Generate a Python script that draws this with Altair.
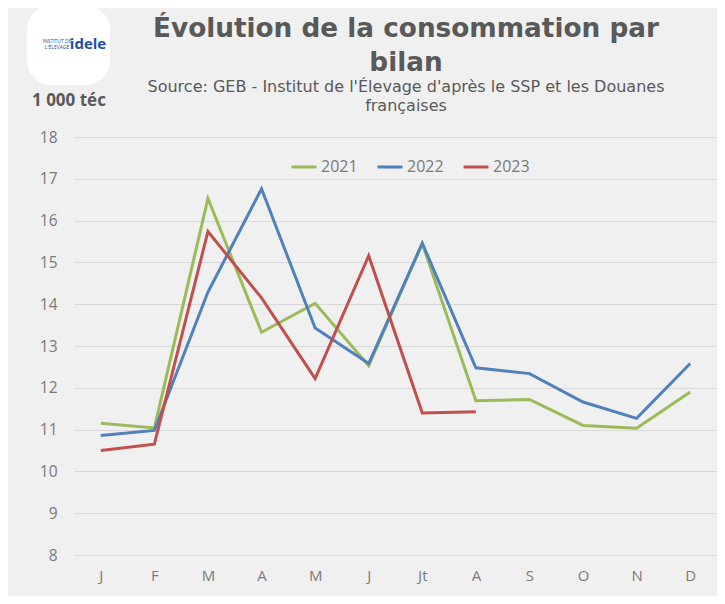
import altair as alt
import pandas as pd

month_labels = ["J", "F", "M", "A", "M", "J", "Jt", "A", "S", "O", "N", "D"]
years = ["2021", "2022", "2023"]
v2021 = [11.15, 11.04, 16.53, 13.33, 14.02, 12.53, 15.45, 11.69, 11.72, 11.10, 11.03, 11.90]
v2022 = [10.86, 10.98, 14.29, 16.76, 13.43, 12.58, 15.46, 12.48, 12.34, 11.66, 11.27, 12.58]
v2023 = [10.50, 10.65, 15.74, 14.15, 12.22, 15.16, 11.40, 11.43]
colors = ["#9bbb59", "#4f81bd", "#c0504d"]

title_lines = ["Évolution de la consommation par", "bilan"]
subtitle_lines = ["Source: GEB - Institut de l'Élevage d'après le SSP et les Douanes", "françaises"]
unit_label = "1 000 téc"

rows = []
for yr, vals in zip(years, [v2021, v2022, v2023]):
    for i, v in enumerate(vals):
        rows.append({"m": i + 1, "year": yr, "value": v})
df = pd.DataFrame(rows)

FONT = "Open Sans"
TFONT = "DejaVu Sans"
GREY = "#595959"
LGREY = "#7a7a7a"
label_expr = "[" + ",".join(f"'{m}'" for m in month_labels) + "][datum.value-1]"

lines = alt.Chart(df).mark_line(strokeWidth=3).encode(
    x=alt.X("m:O", scale=alt.Scale(type="point", padding=0.5),
            axis=alt.Axis(title=None, labelExpr=label_expr, labelAngle=0, domain=False, ticks=False,
                          labelFontSize=15, labelColor=LGREY, labelFont=FONT, labelPadding=13, grid=False)),
    y=alt.Y("value:Q", scale=alt.Scale(domain=[8, 18], nice=False, zero=False),
            axis=alt.Axis(title=None, values=list(range(8, 19)), domain=False, ticks=False,
                          labelFontSize=15.5, labelColor=LGREY, labelFont=FONT, labelPadding=17,
                          gridColor="#d9d9d9", gridWidth=1.2)),
    color=alt.Color("year:N", scale=alt.Scale(domain=years, range=colors),
                    legend=alt.Legend(orient="none", legendX=216, legendY=16, direction="horizontal",
                                      title=None, symbolType="stroke", symbolStrokeWidth=3,
                                      symbolSize=625, labelFontSize=16, labelColor=LGREY,
                                      labelFont=FONT, labelOffset=3, columnPadding=13)),
)

def txt(text, x, y, size, weight="normal", align="center", color=GREY, line_height=None, font=FONT):
    kw = dict(fontSize=size, fontWeight=weight, align=align, baseline="alphabetic", font=font, color=color)
    if line_height is not None:
        kw["lineHeight"] = line_height
    return alt.Chart(pd.DataFrame({"t": [0]})).mark_text(text=text, **kw).encode(
        x=alt.value(x), y=alt.value(y))

logo_bg = alt.Chart(pd.DataFrame({"t": [0]})).mark_rect(color="white", cornerRadius=25).encode(
    x=alt.value(-47), x2=alt.value(36), y=alt.value(-132), y2=alt.value(-52))

layers = [
    lines,
    logo_bg,
    txt("idele", 14, -88, 15, "bold", "center", "#1f4e9e"),
    txt(["INSTITUT DE", "L'ÉLEVAGE"], -17, -94, 5, "normal", "center", "#1f4e9e", 6),
    txt(title_lines, 332, -100, 26.3, "bold", line_height=33.5, font=TFONT),
    txt(subtitle_lines, 332, -45.5, 16, line_height=19, font=TFONT),
    txt(unit_label, -42, -31, 17, "bold", "left"),
]

chart = alt.layer(*layers).properties(
    width=643, height=418,
    autosize=alt.AutoSizeParams(type="none"),
    padding={"left": 66, "top": 129, "right": 0, "bottom": 41},
    background="#f0f0f0",
).configure_view(stroke=None)

chart.save("out.html", embed_options={"renderer": "svg", "actions": False})
